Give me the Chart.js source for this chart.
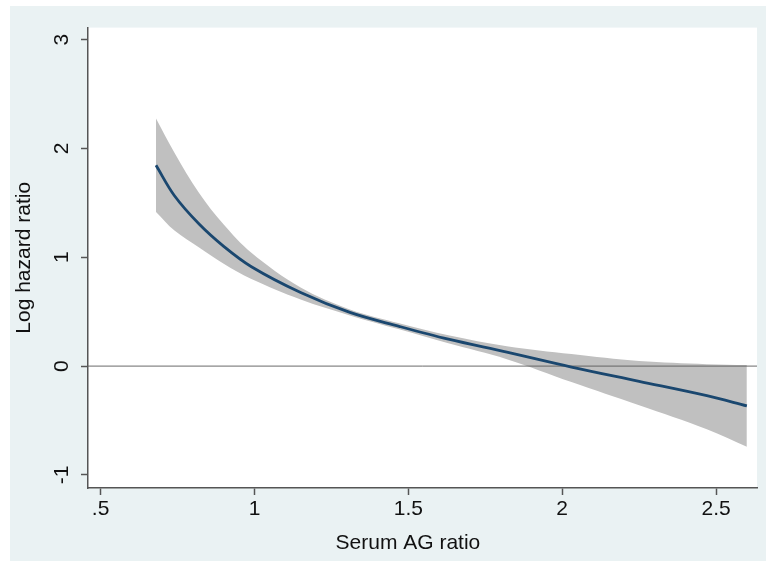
<!DOCTYPE html>
<html><head><meta charset="utf-8">
<script src="https://cdn.jsdelivr.net/npm/chart.js@4.4.0/dist/chart.umd.min.js"></script>
<style>
html,body{margin:0;padding:0;background:#fff;width:766px;height:561px;overflow:hidden}
#wrap{position:absolute;left:10px;top:6px;width:756px;height:555px;background:rgb(234,242,243)}
canvas{display:block}
</style></head><body>
<div id="wrap"><canvas id="c" width="756" height="555"></canvas></div>
<script>
// ---- data ----
const agRatio = [0.68, 0.74, 0.82, 0.90, 0.99, 1.15, 1.31, 1.47, 1.63, 1.82, 2.03, 2.25, 2.47, 2.60];
const logHR   = [1.845, 1.565, 1.305, 1.10, 0.913, 0.676, 0.493, 0.365, 0.247, 0.128, -0.009, -0.140, -0.272, -0.365];
const ciUpper = [2.274, 1.960, 1.590, 1.30, 1.041, 0.721, 0.520, 0.393, 0.283, 0.183, 0.110, 0.046, 0.018, 0.009];
const ciLower = [1.416, 1.245, 1.090, 0.94, 0.800, 0.612, 0.466, 0.338, 0.210, 0.064, -0.146, -0.360, -0.580, -0.740];
const xTickValues = [0.5, 1, 1.5, 2, 2.5];
const xTickLabels = ['.5', '1', '1.5', '2', '2.5'];
const yTickValues = [-1, 0, 1, 2, 3];
const yTickLabels = ['-1', '0', '1', '2', '3'];
const X_MIN = 0.459, X_MAX = 2.633, Y_MIN = -1.12, Y_MAX = 3.11;

const pts = arr => agRatio.map((x, i) => ({x: x, y: arr[i]}));

Chart.defaults.font.family = '"Liberation Sans", Arial, sans-serif';
Chart.defaults.font.size = 21;
Chart.defaults.color = '#111';

const plotBg = {
  id: 'plotBg',
  beforeDraw(chart) {
    const {ctx, chartArea: a} = chart;
    ctx.save();
    ctx.fillStyle = '#fff';
    ctx.fillRect(a.left, a.top, a.right - a.left, a.bottom - a.top);
    ctx.restore();
  }
};

const axisColor = '#555';
const T = 0.35;

new Chart(document.getElementById('c'), {
  type: 'line',
  data: {
    datasets: [
      {data: pts(logHR), borderColor: 'rgb(26,71,111)', borderWidth: 2.8, pointRadius: 0, fill: false, tension: T},
      {data: [{x: X_MIN, y: 0}, {x: X_MAX, y: 0}], borderColor: 'rgba(90,90,90,0.9)', borderWidth: 1, pointRadius: 0, fill: false},
      {data: pts(ciUpper), borderWidth: 0, borderColor: 'rgba(0,0,0,0)', pointRadius: 0, fill: '+1', backgroundColor: 'rgb(192,192,192)', tension: T},
      {data: pts(ciLower), borderWidth: 0, borderColor: 'rgba(0,0,0,0)', pointRadius: 0, fill: false, tension: T}
    ]
  },
  options: {
    responsive: false,
    devicePixelRatio: 1,
    animation: false,
    layout: {padding: {top: 20, right: 9, left: 0, bottom: 0}},
    plugins: {legend: {display: false}, tooltip: {enabled: false}},
    scales: {
      x: {
        type: 'linear', min: X_MIN, max: X_MAX,
        afterBuildTicks: s => { s.ticks = xTickValues.map(v => ({value: v})); },
        afterFit: s => { s.height = 73; },
        ticks: {padding: 2, maxRotation: 0, autoSkip: false, color: '#111',
          callback: v => xTickLabels[xTickValues.indexOf(v)]},
        grid: {drawOnChartArea: false, drawTicks: true, tickLength: 7, tickColor: axisColor, tickWidth: 1.5},
        border: {display: true, color: axisColor, width: 1.5},
        title: {display: true, text: 'Serum AG ratio\u00a0\u00a0\u00a0\u00a0\u00a0', color: '#111', padding: {top: 0, bottom: 5}}
      },
      y: {
        type: 'linear', min: Y_MIN, max: Y_MAX,
        afterBuildTicks: s => { s.ticks = yTickValues.map(v => ({value: v})); },
        afterFit: s => { s.width = 78; },
        ticks: {minRotation: 90, maxRotation: 90, crossAlign: 'center', padding: 9, color: '#111',
          callback: v => yTickLabels[yTickValues.indexOf(v)]},
        grid: {drawOnChartArea: false, drawTicks: true, tickLength: 7, tickColor: axisColor, tickWidth: 1.5},
        border: {display: true, color: axisColor, width: 1.5},
        title: {display: true, text: 'Log hazard ratio', color: '#111', padding: {top: 2, bottom: 0}}
      }
    }
  },
  plugins: [plotBg]
});
</script>
</body></html>
